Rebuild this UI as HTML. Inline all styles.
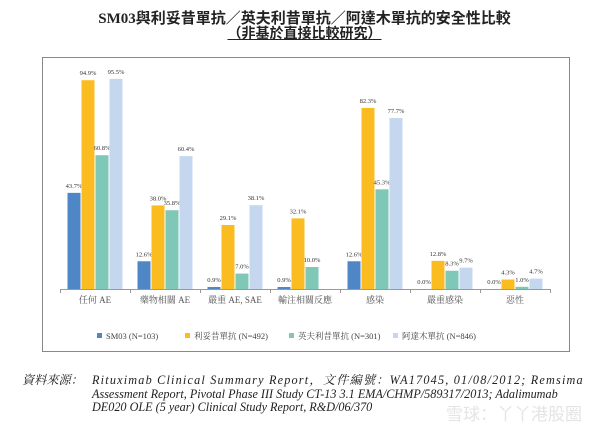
<!DOCTYPE html>
<html><head><meta charset="utf-8"><style>
body{margin:0;background:#fff;width:609px;height:431px;overflow:hidden;position:relative;font-family:"Liberation Serif","Noto Serif CJK SC",serif}
.t{position:absolute;left:0;width:609px;text-align:center;font-weight:bold;font-size:15px;color:#222;font-family:"Liberation Serif","Noto Sans CJK TC",sans-serif}
.foot{position:absolute;font-style:italic;font-size:12.2px;color:#222;line-height:13.5px;white-space:nowrap}
</style></head><body>
<div class="t" style="top:7px">SM03與利妥昔單抗／英夫利昔單抗／阿達木單抗的安全性比較</div>
<div class="t" style="top:23px;font-size:14px"><span style="text-decoration:underline">（非基於直接比較研究）</span></div>
<svg id="c" width="609" height="431" style="position:absolute;left:0;top:0">
<rect x="42.5" y="57.5" width="527" height="294" fill="none" stroke="#888" stroke-width="1"/>
</svg>
<div class="foot" style="left:22px;top:374px">資料來源：</div>
<div class="foot" style="left:92px;top:374px"><span style="letter-spacing:1.2px">Rituximab Clinical Summary Report，文件編號：WA17045, 01/08/2012; Remsima</span><br>Assessment Report, Pivotal Phase III Study CT-13 3.1 EMA/CHMP/589317/2013; Adalimumab<br>DE020 OLE (5 year) Clinical Study Report, R&amp;D/06/370</div>
<div style="position:absolute;left:446px;top:400px;font-size:17px;color:#e4e4e4;font-family:'Noto Sans CJK SC',sans-serif">雪球：丫丫港股圈</div>
<script>
const categories=["任何 AE","藥物相關 AE","嚴重 AE, SAE","輸注相關反應","感染","嚴重感染","惡性"];
const seriesNames=["SM03 (N=103)","利妥昔單抗 (N=492)","英夫利昔單抗 (N=301)","阿達木單抗 (N=846)"];
const sm03=[43.7,12.6,0.9,0.9,12.6,0.0,0.0];
const rituximab=[94.9,38.0,29.1,32.1,82.3,12.8,4.3];
const infliximab=[60.8,35.8,7.0,10.0,45.3,8.3,1.0];
const adalimumab=[95.5,60.4,38.1,null,77.7,9.7,4.7];
const colors=["#4f86c6","#fbbc22","#7fc7b6","#c5d7ef"];
const series=[sm03,rituximab,infliximab,adalimumab];
const svg=document.getElementById('c');
const NS='http://www.w3.org/2000/svg';
const x0=60,gw=70,base=289,k=2.2;
const y=v=>base-v*k;
function mk(t,a){const e=document.createElementNS(NS,t);for(const n in a)e.setAttribute(n,a[n]);svg.appendChild(e);return e;}
series.forEach((s,si)=>{s.forEach((v,ci)=>{if(v==null)return;
const bx=x0+ci*gw+7.5+si*14;
const r=mk('rect',{x:bx,y:y(v),width:13,height:Math.max(v*k,0.8),fill:colors[si]});


const t=mk('text',{x:bx+6.5,y:y(v)-5,'text-anchor':'middle','font-size':'6.5',fill:'#333'});
t.textContent=v.toFixed(1)+'%';


});});
const ax=mk('line',{x1:x0,y1:base+0.5,x2:x0+gw*categories.length,y2:base+0.5,stroke:'#999'});


categories.forEach((c,i)=>{
const tk=mk('line',{x1:x0+i*gw+0.5,y1:base,x2:x0+i*gw+0.5,y2:base+4,stroke:'#999'});


const t=mk('text',{x:x0+i*gw+35,y:base+14,'text-anchor':'middle','font-size':'9',fill:'#555'});
t.textContent=c;


});
const tk=mk('line',{x1:x0+7*gw+0.5,y1:base,x2:x0+7*gw+0.5,y2:base+4,stroke:'#999'});


const lx=[97,185,289,393];
seriesNames.forEach((n,i)=>{
const r=mk('rect',{x:lx[i],y:333,width:5,height:5,fill:colors[i]});


const t=mk('text',{x:lx[i]+9,y:339,'font-size':'8.5',fill:'#444'});
t.textContent=n;


});
</script>
</body></html>
